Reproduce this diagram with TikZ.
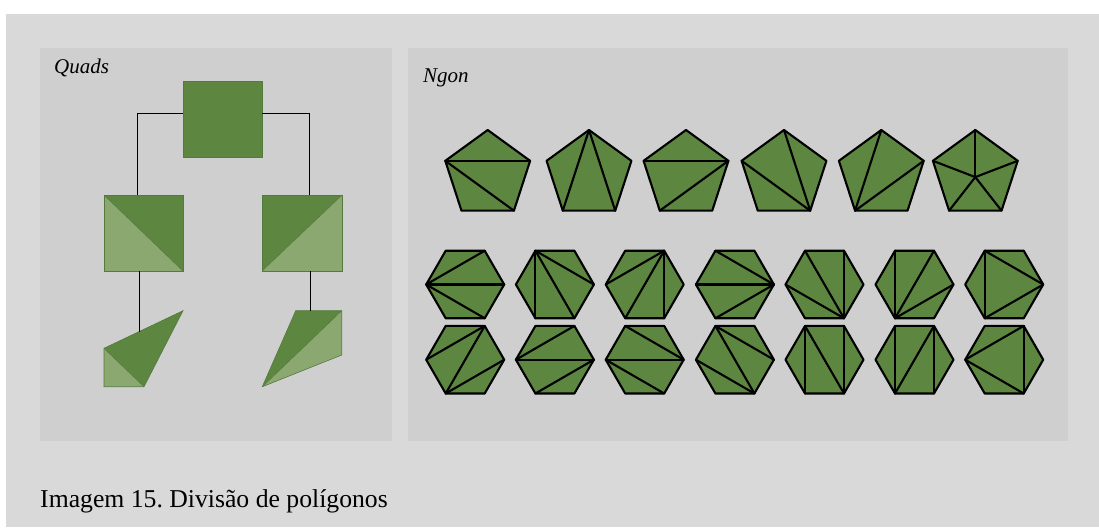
\documentclass[tikz,border=0pt]{standalone}
\usepackage{fontspec}
\setmainfont{Liberation Serif}
\frenchspacing
\definecolor{outerbg}{HTML}{D9D9D9}
\definecolor{panelbg}{HTML}{CFCFCF}
\definecolor{gdark}{HTML}{5D8640}
\definecolor{glight}{HTML}{8AA86F}
\definecolor{gline}{HTML}{557A3D}
\tikzset{
  poly/.style={draw=black, line width=2.1pt, line join=round, line cap=round},
  quadpart/.style={draw=gline, line width=0.6pt, line join=miter},
  tree/.style={draw=black, line width=1pt},
  lbl/.style={inner sep=0pt, anchor=base west, font=\fontsize{21}{25}\selectfont\itshape},
}
\newcommand{\pr}{44.6}
\newcommand{\hr}{39}
\newcommand{\mypent}[3]{%
  \begin{scope}[shift={#2}]
    \coordinate (#1-T) at (270:\pr);
    \coordinate (#1-UR) at (-18:\pr);
    \coordinate (#1-LR) at (54:\pr);
    \coordinate (#1-LL) at (126:\pr);
    \coordinate (#1-UL) at (198:\pr);
    \coordinate (#1-C) at (0,2.5);
    \fill[gdark] (#1-T) -- (#1-UR) -- (#1-LR) -- (#1-LL) -- (#1-UL) -- cycle;
    \foreach \a/\b in {#3} {\draw[poly] (#1-\a) -- (#1-\b);}
    \draw[poly] (#1-T) -- (#1-UR) -- (#1-LR) -- (#1-LL) -- (#1-UL) -- cycle;
  \end{scope}}
\newcommand{\myhex}[3]{%
  \begin{scope}[shift={#2}]
    \coordinate (#1-L) at (180:\hr);
    \coordinate (#1-TL) at (240:\hr);
    \coordinate (#1-TR) at (300:\hr);
    \coordinate (#1-R) at (0:\hr);
    \coordinate (#1-BR) at (60:\hr);
    \coordinate (#1-BL) at (120:\hr);
    \fill[gdark] (#1-L) -- (#1-TL) -- (#1-TR) -- (#1-R) -- (#1-BR) -- (#1-BL) -- cycle;
    \foreach \a/\b in {#3} {\draw[poly] (#1-\a) -- (#1-\b);}
    \draw[poly] (#1-L) -- (#1-TL) -- (#1-TR) -- (#1-R) -- (#1-BR) -- (#1-BL) -- cycle;
  \end{scope}}
\begin{document}
\begin{tikzpicture}[x=1pt, y=-1pt]
\useasboundingbox (0,0) rectangle (1099,527);
\fill[white] (0,0) rectangle (1099,527);
\fill[outerbg] (6,14) rectangle (1099,527);
% panels
\fill[panelbg] (40,48) rectangle (392,441);
\fill[panelbg] (408,48) rectangle (1068,441);
\node[lbl] (quadslbl) at (54,73) {Quads};
\node[lbl] (ngonlbl) at (423,82) {Ngon};
% ---------- Quads tree ----------
% top square
\fill[gdark] (183,81) rectangle (262,157);
\draw[quadpart] (183,81) rectangle (262,157);
% left square: diagonal TL-BR
\fill[gdark] (104,195) -- (183,195) -- (183,271) -- cycle;
\fill[glight] (104,195) -- (104,271) -- (183,271) -- cycle;
\draw[quadpart] (104,195) rectangle (183,271);
\draw[quadpart] (104,195) -- (183,271);
% right square: diagonal BL-TR
\fill[gdark] (262,195) -- (342,195) -- (262,271) -- cycle;
\fill[glight] (342,195) -- (342,271) -- (262,271) -- cycle;
\draw[quadpart] (262,195) rectangle (342,271);
\draw[quadpart] (262,271) -- (342,195);
% bottom left quad
\coordinate (blA) at (104,348.3);
\coordinate (blB) at (183,310.7);
\coordinate (blC) at (144,386.7);
\coordinate (blD) at (104,386.7);
\fill[gdark] (blA) -- (blB) -- (blC) -- cycle;
\fill[glight] (blA) -- (blC) -- (blD) -- cycle;
\draw[quadpart] (blA) -- (blB) -- (blC) -- (blD) -- cycle;
\draw[quadpart] (blA) -- (blC);
% bottom right quad
\coordinate (brA) at (295.7,310.7);
\coordinate (brB) at (341.7,310.7);
\coordinate (brC) at (341.7,355);
\coordinate (brD) at (262.3,386.7);
\fill[gdark] (brA) -- (brB) -- (brD) -- cycle;
\fill[glight] (brB) -- (brC) -- (brD) -- cycle;
\draw[quadpart] (brA) -- (brB) -- (brC) -- (brD) -- cycle;
\draw[quadpart] (brB) -- (brD);
% connectors
\coordinate (topW) at (183,113);
\coordinate (topE) at (262,113);
\coordinate (lsqN) at (137.3,195);
\coordinate (rsqN) at (309,195);
\coordinate (lsqS) at (139.3,271);
\coordinate (rsqS) at (310.3,271);
\coordinate (blN) at (139.3,331.6);
\coordinate (brN) at (310.3,310.7);
\draw[tree] (topW) -| (lsqN);
\draw[tree] (topE) -| (rsqN);
\draw[tree] (lsqS) -- (blN);
\draw[tree] (rsqS) -- (brN);
% ---------- Pentagons ----------
\mypent{p1}{(487.7,174.6)}{UL/UR,UL/LR}
\mypent{p2}{(589,174.6)}{T/LL,T/LR}
\mypent{p3}{(686,174.6)}{UL/UR,UR/LL}
\mypent{p4}{(784,174.6)}{T/LR,UL/LR}
\mypent{p5}{(881.3,174.6)}{T/LL,LL/UR}
\mypent{p6}{(975.3,174.6)}{C/T,C/UR,C/LR,C/LL,C/UL}
% ---------- Hexagons row 1 ----------
\myhex{a1}{(465.2,284.5)}{L/TR,L/R,L/BR}
\myhex{a2}{(554.9,284.5)}{TL/BL,TL/BR,TL/R}
\myhex{a3}{(644.7,284.5)}{TR/L,TR/BL,TR/BR}
\myhex{a4}{(734.9,284.5)}{R/TL,R/L,R/BL}
\myhex{a5}{(824.5,284.5)}{BR/TR,BR/TL,BR/L}
\myhex{a6}{(914.5,284.5)}{BL/TL,BL/TR,BL/R}
\myhex{a7}{(1004.2,284.5)}{TL/BL,TL/R,BL/R}
% ---------- Hexagons row 2 ----------
\myhex{b1}{(465.2,359.7)}{L/TR,TR/BL,BL/R}
\myhex{b2}{(554.9,359.7)}{L/TR,L/R,R/BL}
\myhex{b3}{(644.7,359.7)}{TL/R,L/R,L/BR}
\myhex{b4}{(734.9,359.7)}{TL/R,TL/BR,L/BR}
\myhex{b5}{(824.5,359.7)}{TL/BL,TL/BR,TR/BR}
\myhex{b6}{(914.5,359.7)}{TL/BL,BL/TR,TR/BR}
\myhex{b7}{(1004.2,359.7)}{L/TR,TR/BR,L/BR}
% caption
\node[inner sep=0pt, anchor=base west, font=\fontsize{25.7}{30}\selectfont] (caption) at (40,507) {Imagem 15. Divisão de polígonos};
\end{tikzpicture}
\end{document}
